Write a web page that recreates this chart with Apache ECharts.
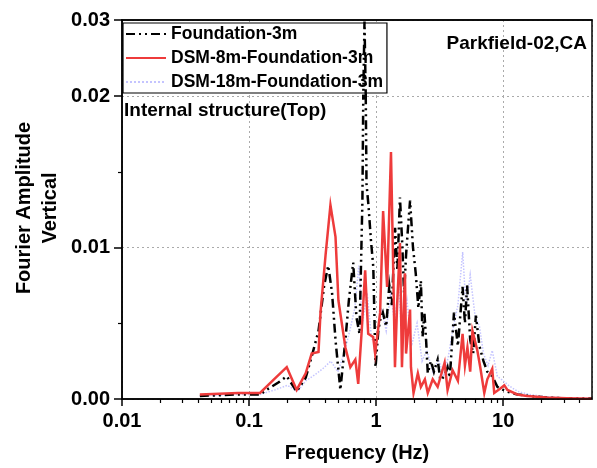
<!DOCTYPE html>
<html>
<head>
<meta charset="utf-8">
<script src="https://cdn.jsdelivr.net/npm/echarts@6/dist/echarts.min.js"></script>
<style>html,body{margin:0;padding:0;background:#fff;}#c{width:597px;height:468px;}</style>
</head>
<body>
<div id="c"></div>
<script>
// ---- data ----
const seriesNames = ['Foundation-3m', 'DSM-8m-Foundation-3m', 'DSM-18m-Foundation-3m'];
const xTickLabels = ['0.01', '0.1', '1', '10'];
const yTickLabels = ['0.00', '0.01', '0.02', '0.03'];
const minorFreqTicks = [0.02,0.03,0.04,0.05,0.06,0.07,0.08,0.09,0.2,0.3,0.4,0.5,0.6,0.7,0.8,0.9,2,3,4,5,6,7,8,9,20,30,40];
const X_MIN = 0.01, X_MAX = 50;

const freqBlack = [0.041,0.082,0.122,0.143,0.171,0.198,0.237,0.279,0.311,0.352,0.39,0.42,0.45,0.48,0.523,0.573,0.61,0.66,0.70,0.74,0.78,0.81,0.84,0.87,0.91,0.95,0.99,1.04,1.075,1.13,1.2,1.27,1.33,1.41,1.47,1.54,1.6,1.66,1.72,1.8,1.85,1.95,2.05,2.15,2.25,2.32,2.4,2.48,2.55,2.7,2.85,3.05,3.2,3.45,3.65,3.8,4.1,4.4,4.79,5.0,5.2,5.5,5.8,6.1,6.5,7.0,7.5,8.2,9.0,10.0,11.5,13,16,22,30,50];
const ampBlack = [0.0002,0.0003,0.0003,0.0007,0.0011,0.0015,0.0005,0.0014,0.0028,0.0045,0.0075,0.0088,0.0070,0.0038,0.0006,0.0039,0.0065,0.0090,0.0054,0.0043,0.0131,0.0298,0.0142,0.0128,0.0105,0.0087,0.0021,0.0045,0.0052,0.0057,0.0048,0.0075,0.0062,0.0113,0.0085,0.0133,0.0105,0.0070,0.0095,0.0118,0.0131,0.0100,0.0083,0.0060,0.0078,0.0041,0.0057,0.0037,0.0017,0.0025,0.0018,0.0026,0.00125,0.0015,0.0021,0.0014,0.0057,0.0035,0.0074,0.0050,0.0075,0.0039,0.0030,0.0055,0.0035,0.0025,0.0018,0.0015,0.0008,0.0006,0.0004,0.0003,0.0002,0.0001,0.00005,0.00003];

const freqRed = [0.041,0.082,0.122,0.157,0.198,0.237,0.279,0.311,0.352,0.365,0.40,0.437,0.479,0.505,0.573,0.627,0.686,0.723,0.77,0.82,0.866,0.948,0.982,1.075,1.135,1.22,1.309,1.36,1.407,1.46,1.54,1.597,1.686,1.72,1.85,1.88,1.97,2.13,2.25,2.42,2.55,2.79,3.05,3.46,3.65,4.0,4.4,4.79,5.0,5.23,5.5,5.73,6.26,6.6,7.1,7.5,8.2,8.5,9.5,10.2,10.8,12.9,15.4,22,31.6,50];
const ampRed = [0.0003,0.0004,0.0004,0.0013,0.0021,0.0006,0.0017,0.0030,0.0031,0.0057,0.0095,0.0128,0.0107,0.0065,0.0034,0.0021,0.0026,0.0010,0.0045,0.0085,0.0043,0.0041,0.0030,0.0057,0.0124,0.0074,0.0163,0.0090,0.0021,0.0060,0.0103,0.0021,0.0083,0.0030,0.0059,0.0021,0.0004,0.0017,0.0008,0.0013,0.0004,0.0013,0.0008,0.0024,0.0006,0.0019,0.0012,0.0043,0.0022,0.0034,0.0018,0.0045,0.0032,0.0021,0.0004,0.0013,0.0020,0.0004,0.0007,0.0009,0.0006,0.0003,0.0002,0.0001,0.00005,0.00002];

const freqBlue = [0.041,0.082,0.122,0.16,0.2,0.24,0.28,0.33,0.38,0.44,0.5,0.56,0.62,0.68,0.73,0.78,0.85,0.92,1.0,1.1,1.2,1.3,1.4,1.5,1.6,1.75,1.9,2.1,2.3,2.5,2.8,3.1,3.4,3.7,4.0,4.4,4.8,5.1,5.5,6.0,6.5,7.0,7.6,8.2,9.0,10,11,13,16,22,30,50];
const ampBlue = [0.0002,0.0003,0.0003,0.0006,0.0009,0.0005,0.0012,0.0016,0.0020,0.0025,0.0018,0.0030,0.0045,0.0060,0.0088,0.0050,0.0070,0.0040,0.0035,0.0060,0.0045,0.0070,0.0050,0.0075,0.0040,0.0065,0.0035,0.0050,0.0025,0.0032,0.0018,0.0026,0.0015,0.0028,0.0045,0.0062,0.0097,0.0060,0.0082,0.0055,0.0048,0.0030,0.0022,0.0032,0.0015,0.0012,0.0009,0.0005,0.0003,0.00015,0.00008,0.00004];

// ---- chart ----
const FONT = 'Arial, "Liberation Sans", sans-serif';
const pairs = (f, a) => f.map((v, i) => [v, a[i]]);
const dataBlack = pairs(freqBlack, ampBlack);
const dataRed = pairs(freqRed, ampRed);
const dataBlue = pairs(freqBlue, ampBlue);

const styles = [
  { color: '#000000', width: 2.5, type: [9, 4, 2, 4, 2, 4], z: 6 },
  { color: '#ee3b3b', width: 2.5, type: 'solid', z: 7 },
  { color: '#c4c4ff', width: 1.5, type: 'dotted', z: 5 }
];
const datas = [dataBlack, dataRed, dataBlue];

const series = [];
[0, 1].forEach(g => {
  datas.forEach((d, k) => {
    series.push({
      name: seriesNames[k], type: 'line', xAxisIndex: g, yAxisIndex: g,
      data: d, symbol: 'none', showSymbol: false, animation: false, clip: true,
      z: styles[k].z,
      itemStyle: { color: styles[k].color },
      lineStyle: { color: styles[k].color, width: styles[k].width, type: styles[k].type, join: 'miter' }
    });
  });
});

const axLine = () => ({ show: true, onZero: false, lineStyle: { color: '#000', width: 1.5 } });
const splitDotted = () => ({ show: true, lineStyle: { color: '#aaaaaa', type: [2, 3], width: 1 } });
const xFmt = v => { const s = xTickLabels.find(t => Math.abs(parseFloat(t) - v) < 1e-9 * Math.max(1, v)); return s || ''; };
const yFmt = v => { const s = yTickLabels.find(t => Math.abs(parseFloat(t) - v) < 1e-9); return s || ''; };
const labelFont = () => ({ fontFamily: FONT, fontWeight: 'bold', fontSize: 20, color: '#000' });

const chart = echarts.init(document.getElementById('c'), null, { renderer: 'canvas' });
chart.setOption({
  backgroundColor: '#fff',
  animation: false,
  grid: [
    { left: 122, right: 5, top: 96, bottom: 69, outerBoundsMode: 'none' },
    { left: 122, right: 5, top: 20, height: 76, outerBoundsMode: 'none' },
    // frame around the whole plotting area
    { left: 122, right: 5, top: 20, bottom: 69, outerBoundsMode: 'none', show: true,
      borderColor: '#000', borderWidth: 1.5, backgroundColor: 'transparent', z: 10 }
  ],
  title: [
    { text: 'Parkfield-02,CA', right: 5, top: 29, textStyle: { fontFamily: FONT, fontWeight: 'bold', fontSize: 19, color: '#000' } },
    { text: 'Internal structure(Top)', left: 119, top: 96, textStyle: { fontFamily: FONT, fontWeight: 'bold', fontSize: 19, color: '#000' } }
  ],
  legend: {
    data: seriesNames, orient: 'vertical', left: 123, top: 23,
    itemWidth: 40, itemHeight: 14, itemGap: 6, padding: [2, 4, 2, 2],
    backgroundColor: '#fff', borderColor: '#000', borderWidth: 1.2, borderRadius: 0,
    itemStyle: { opacity: 0 },
    textStyle: { fontFamily: FONT, fontWeight: 'bold', fontSize: 17.5, color: '#000', lineHeight: 18 },
    selectedMode: false, z: 4
  },
  xAxis: [
    { type: 'log', logBase: 10, gridIndex: 0, min: X_MIN, max: X_MAX, position: 'bottom',
      axisLine: axLine(), axisTick: { show: true, length: 7, lineStyle: { color: '#000', width: 1.5 } },
      axisLabel: Object.assign({ margin: 12, formatter: xFmt, showMaxLabel: false }, labelFont()),
      splitLine: splitDotted(),
      name: 'Frequency (Hz)', nameLocation: 'middle', nameGap: 44,
      nameTextStyle: { fontFamily: FONT, fontWeight: 'bold', fontSize: 20, color: '#000' } },
    { type: 'log', logBase: 10, gridIndex: 1, min: X_MIN, max: X_MAX, position: 'top',
      axisLine: axLine(), axisTick: { show: false }, axisLabel: { show: false },
      splitLine: splitDotted() },
    { type: 'value', gridIndex: 0, min: Math.log10(X_MIN), max: Math.log10(X_MAX), position: 'bottom',
      axisLine: { show: false, onZero: false }, axisLabel: { show: false }, splitLine: { show: false },
      axisTick: { show: true, length: 4, lineStyle: { color: '#000', width: 1.2 }, customValues: minorFreqTicks.map(Math.log10) } },
    { type: 'value', gridIndex: 2, min: 0, max: 1, show: false }
  ],
  yAxis: [
    { type: 'value', gridIndex: 0, min: 0, max: 0.02, interval: 0.01, position: 'left',
      axisLine: axLine(), axisTick: { show: true, length: 8, lineStyle: { color: '#000', width: 1.5 } },
      minorTick: { show: true, splitNumber: 2, length: 4, lineStyle: { color: '#000', width: 1.2 } },
      axisLabel: Object.assign({ margin: 12, formatter: yFmt }, labelFont()),
      splitLine: splitDotted() },
    { type: 'value', gridIndex: 1, min: 0.02, max: 0.03, interval: 0.01, position: 'left',
      axisLine: axLine(), axisTick: { show: true, length: 8, lineStyle: { color: '#000', width: 1.5 } },
      axisLabel: Object.assign({ margin: 12, formatter: yFmt, showMinLabel: false }, labelFont()),
      splitLine: splitDotted() },
    { type: 'value', gridIndex: 2, min: 0, max: 1, show: false }
  ],
  graphic: [
    { type: 'text', x: 37, y: 208, rotation: Math.PI / 2,
      style: { text: 'Fourier Amplitude\nVertical', fill: '#000', font: 'bold 20px ' + FONT,
               textAlign: 'center', textVerticalAlign: 'middle', lineHeight: 26 } }
  ],
  series: series
});
</script>
</body>
</html>
